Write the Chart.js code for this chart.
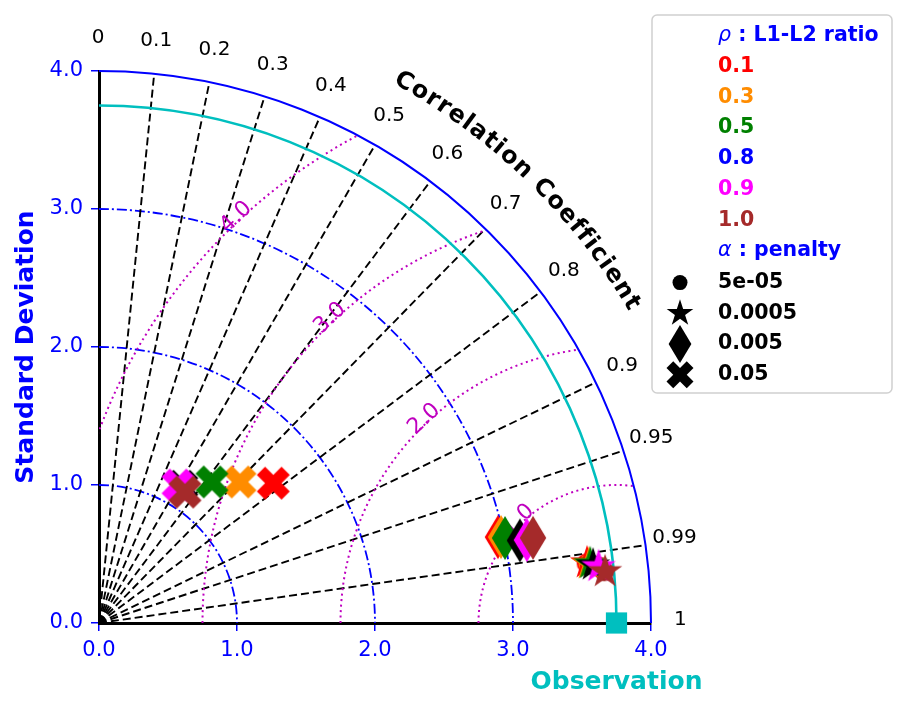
<!DOCTYPE html>
<html>
<head>
<meta charset="utf-8">
<script src="https://cdn.jsdelivr.net/npm/chart.js@4.4.1/dist/chart.umd.min.js"></script>
<style>
  html, body { margin: 0; padding: 0; background: #fff; }
  canvas { display: block; }
</style>
</head>
<body>
<canvas id="taylor" width="905" height="710"></canvas>
<script>
// legend groups
var ratios = ['0.1', '0.3', '0.5', '0.8', '0.9', '1.0']
var ratioColors = ['#ff0000', '#ff8c00', '#008000', '#0000ff', '#ff00ff', '#a52a2a']
var markerColors = ['#ff0000', '#ff8c00', '#008000', '#000000', '#ff00ff', '#a52a2a']
var penalties = ['5e-05', '0.0005', '0.005', '0.05']
var penaltyShapes = ['circle', 'star', 'diamond', 'x']

// reference (observation) standard deviation
var stdObs = 3.75

// standard deviation and correlation of each model, one value per ratio
var std5e5 = [3.560, 3.574, 3.584, 3.602, 3.640, 3.680]
var corr5e5 = [0.9926, 0.9928, 0.9929, 0.9932, 0.9937, 0.9948]
var std5e4 = [3.563, 3.576, 3.586, 3.605, 3.643, 3.686]
var corr5e4 = [0.9925, 0.9928, 0.9928, 0.9932, 0.9937, 0.9949]
var std5e3 = [2.957, 2.979, 3.006, 3.108, 3.158, 3.205]
var corr5e3 = [0.9776, 0.9779, 0.9788, 0.9813, 0.9817, 0.9813]
var std5e2 = [1.619, 1.445, 1.310, 1.158, 1.152, 1.135]
var corr5e2 = [0.780, 0.707, 0.625, 0.518, 0.497, 0.549]

// axes
var stdTicks = [0, 1, 2, 3, 4]
var stdArcs = [1, 2, 3]
var stdMax = 4
var corrTicks = [0, 0.1, 0.2, 0.3, 0.4, 0.5, 0.6, 0.7, 0.8, 0.9, 0.95, 0.99, 1]
var rmsLevels = [1, 2, 3, 4]

var FONT = "'DejaVu Sans', 'Liberation Sans', sans-serif"

// x filled marker outline (unit square)
var xPts = [[0.25, 0], [0.5, 0.25], [0.75, 0], [1, 0.25], [0.75, 0.5], [1, 0.75],
  [0.75, 1], [0.5, 0.75], [0.25, 1], [0, 0.75], [0.25, 0.5], [0, 0.25]]

function shapePath(c, shape, cx, cy, s) {
  c.beginPath()
  if (shape === 'circle') {
    c.arc(cx, cy, s / 2, 0, 2 * Math.PI)
  } else if (shape === 'star') {
    var R = s / 2, r = R * 0.381966
    for (var i = 0; i < 10; i++) {
      var a = -Math.PI / 2 + i * Math.PI / 5
      var rad = i % 2 ? r : R
      var px = cx + rad * Math.cos(a), py = cy + rad * Math.sin(a)
      if (i === 0) c.moveTo(px, py); else c.lineTo(px, py)
    }
  } else if (shape === 'diamond') {
    c.moveTo(cx, cy - s / 2)
    c.lineTo(cx + s * 0.3, cy)
    c.lineTo(cx, cy + s / 2)
    c.lineTo(cx - s * 0.3, cy)
  } else {
    xPts.forEach(function (p, i) {
      var px = cx + (p[0] - 0.5) * s, py = cy + (p[1] - 0.5) * s
      if (i === 0) c.moveTo(px, py); else c.lineTo(px, py)
    })
  }
  c.closePath()
}

var plotSize = { circle: 20, star: 36, diamond: 44, x: 33 }
var legendSize = { circle: 15, star: 28, diamond: 38, x: 27 }

function markerImage(shape, color) {
  var s = plotSize[shape]
  var cv = document.createElement('canvas')
  cv.width = s + 4
  cv.height = s + 4
  var c = cv.getContext('2d')
  c.fillStyle = color
  shapePath(c, shape, cv.width / 2, cv.height / 2, s)
  c.fill()
  return cv
}

function toPoints(stds, corrs) {
  return stds.map(function (sd, i) {
    return { x: sd * corrs[i], y: sd * Math.sqrt(1 - corrs[i] * corrs[i]) }
  })
}

function modelSet(label, k, stds, corrs) {
  return {
    label: label,
    data: toPoints(stds, corrs),
    pointStyle: markerColors.map(function (col) { return markerImage(penaltyShapes[k], col) }),
    pointRadius: 12,
    clip: false
  }
}

var taylorPlugin = {
  id: 'taylor',
  beforeDatasetsDraw: function (chart) {
    var ctx = chart.ctx
    var xs = chart.scales.x, ys = chart.scales.y
    var ox = xs.getPixelForValue(0), oy = ys.getPixelForValue(0)
    var kx = xs.getPixelForValue(1) - ox, ky = oy - ys.getPixelForValue(1)
    ctx.save()

    // std dev arcs
    ctx.strokeStyle = '#0000ff'
    ctx.lineWidth = 1.8
    ctx.setLineDash([10, 3, 2, 3])
    stdArcs.forEach(function (r) {
      ctx.beginPath()
      ctx.ellipse(ox, oy, r * kx, r * ky, 0, -Math.PI / 2, 0)
      ctx.stroke()
    })

    // correlation lines
    ctx.strokeStyle = '#000'
    ctx.lineWidth = 1.9
    ctx.setLineDash([8, 4])
    corrTicks.forEach(function (c) {
      if (c <= 0 || c >= 1) return
      var s = Math.sqrt(1 - c * c)
      ctx.beginPath()
      ctx.moveTo(ox, oy)
      ctx.lineTo(xs.getPixelForValue(stdMax * c), ys.getPixelForValue(stdMax * s))
      ctx.stroke()
    })

    // centred RMS contours, clipped to the quarter disc
    var cx = xs.getPixelForValue(stdObs)
    ctx.save()
    ctx.beginPath()
    ctx.moveTo(ox, oy)
    ctx.ellipse(ox, oy, stdMax * kx, stdMax * ky, 0, -Math.PI / 2, 0)
    ctx.closePath()
    ctx.clip()
    ctx.strokeStyle = '#bf00bf'
    ctx.lineWidth = 2
    ctx.setLineDash([2, 3.5])
    rmsLevels.forEach(function (r) {
      ctx.beginPath()
      ctx.ellipse(cx, oy, r * kx, r * ky, 0, -Math.PI, 0)
      ctx.stroke()
    })
    ctx.restore()

    // rms labels
    ctx.fillStyle = '#bf00bf'
    ctx.font = '22px ' + FONT
    ctx.textAlign = 'center'
    ctx.textBaseline = 'middle'
    var phi = 133 * Math.PI / 180
    rmsLevels.forEach(function (r) {
      var px = cx + r * kx * Math.cos(phi) - 4, py = oy - r * ky * Math.sin(phi) - 2
      ctx.save()
      ctx.translate(px, py)
      ctx.rotate(-(phi - Math.PI / 2))
      ctx.fillText(r.toFixed(1), 0, 0)
      ctx.restore()
    })

    // observation arc
    ctx.setLineDash([])
    ctx.strokeStyle = '#00bfbf'
    ctx.lineWidth = 2.6
    ctx.beginPath()
    ctx.ellipse(ox, oy, stdObs * kx, stdObs * ky, 0, -Math.PI / 2, 0)
    ctx.stroke()

    // outer arc
    ctx.strokeStyle = '#0000ff'
    ctx.lineWidth = 2
    ctx.beginPath()
    ctx.ellipse(ox, oy, stdMax * kx, stdMax * ky, 0, -Math.PI / 2, 0)
    ctx.stroke()

    // correlation tick labels
    ctx.fillStyle = '#000'
    ctx.font = '20px ' + FONT
    corrTicks.forEach(function (c) {
      var s = Math.sqrt(1 - c * c), R = 4.22
      ctx.fillText(String(c), xs.getPixelForValue(R * c) - 1, ys.getPixelForValue(R * s) - 3)
    })

    // curved title
    var title = 'Correlation Coefficient'
    ctx.font = 'bold 24px ' + FONT
    var Rp = 4.5 * kx
    var t0 = 60.6 * Math.PI / 180, t1 = 31 * Math.PI / 180
    var widths = title.split('').map(function (ch) { return ctx.measureText(ch).width })
    var W = widths.reduce(function (a, b) { return a + b }, 0)
    var n = widths.length
    var sp = ((t0 - t1) * Rp - (W - widths[0] / 2 - widths[n - 1] / 2)) / (n - 1)
    var pos = 0
    title.split('').forEach(function (ch, i) {
      var center = pos + widths[i] / 2
      var th = t0 - (center - widths[0] / 2) / Rp
      ctx.save()
      ctx.translate(ox + Rp * Math.cos(th), oy - Rp * Math.sin(th))
      ctx.rotate(Math.PI / 2 - th)
      ctx.fillText(ch, 0, 0)
      ctx.restore()
      pos += widths[i] + sp
    })

    // axis titles
    ctx.font = 'bold 25px ' + FONT
    ctx.fillStyle = '#0000ff'
    ctx.save()
    ctx.translate(26, (ys.top + ys.bottom) / 2)
    ctx.rotate(-Math.PI / 2)
    ctx.fillText('Standard Deviation', 0, 0)
    ctx.restore()
    ctx.fillStyle = '#00bfbf'
    ctx.fillText('Observation', cx, 682)

    ctx.restore()
  },
  afterDraw: function (chart) {
    var ctx = chart.ctx
    ctx.save()
    // legend box
    var bx = 652, by = 15, bw = 240, bh = 378
    ctx.fillStyle = 'rgba(255,255,255,0.8)'
    ctx.strokeStyle = '#d0d0d0'
    ctx.lineWidth = 1.5
    ctx.beginPath()
    ctx.roundRect(bx, by, bw, bh, 5)
    ctx.fill()
    ctx.stroke()

    var tx = 718, mx = 680, row = 30.7, y0 = 35
    ctx.textAlign = 'left'
    ctx.textBaseline = 'middle'

    function header(sym, text, yy) {
      ctx.fillStyle = '#0000ff'
      ctx.font = 'italic 20.5px ' + FONT
      ctx.fillText(sym, tx, yy)
      var w = ctx.measureText(sym).width
      ctx.font = 'bold 20.5px ' + FONT
      ctx.fillText(text, tx + w, yy)
    }

    header('\u03c1', ' : L1-L2 ratio', y0 + 1)
    ctx.font = 'bold 20.5px ' + FONT
    ratios.forEach(function (r, i) {
      ctx.fillStyle = ratioColors[i]
      ctx.fillText(r, tx, y0 + 1 + row * (i + 1))
    })
    var ya = y0 + row * (ratios.length + 1)
    header('\u03b1', ' : penalty', ya + 1)
    penalties.forEach(function (p, i) {
      var yy = ya + row * (i + 1) + 2
      ctx.fillStyle = '#000'
      shapePath(ctx, penaltyShapes[i], mx, yy, legendSize[penaltyShapes[i]])
      ctx.fill()
      ctx.font = 'bold 20.5px ' + FONT
      ctx.fillText(p, tx, yy)
    })
    ctx.restore()
  }
}

var datasets = [{
  label: 'Observation',
  data: [{ x: stdObs, y: 0 }],
  pointStyle: 'rect',
  pointRadius: 15,
  backgroundColor: '#00bfbf',
  borderWidth: 0,
  clip: false
}]
datasets.push(modelSet('0.05', 3, std5e2, corr5e2))
datasets.push(modelSet('0.005', 2, std5e3, corr5e3))
datasets.push(modelSet('0.0005', 1, std5e4, corr5e4))
datasets.push(modelSet('5e-05', 0, std5e5, corr5e5))

function axisOpts(fit) {
  return {
    type: 'linear',
    min: stdTicks[0],
    max: stdTicks[stdTicks.length - 1],
    afterBuildTicks: function (s) { s.ticks = stdTicks.map(function (v) { return { value: v } }) },
    ticks: {
      color: '#0000ff',
      font: { size: 21, family: FONT },
      callback: function (v) { return Number(v).toFixed(1) }
    },
    grid: { drawOnChartArea: false, drawTicks: true, tickLength: 8, color: '#0000ff', lineWidth: 1.5 },
    border: { display: true, color: '#000', width: 3 },
    afterFit: fit
  }
}

var xOpts = axisOpts(function (s) { s.height = 87 })
xOpts.ticks.padding = 7
var yOpts = axisOpts(function (s) { s.width = 99 })
yOpts.ticks.padding = 8

var ctx = document.getElementById('taylor').getContext('2d')
var chart = new Chart(ctx, {
  type: 'scatter',
  data: { datasets: datasets },
  options: {
    responsive: false,
    animation: false,
    layout: { padding: { left: 0, top: 71, right: 254, bottom: 0 } },
    plugins: { legend: { display: false }, tooltip: { enabled: false } },
    scales: { x: xOpts, y: yOpts }
  },
  plugins: [taylorPlugin]
})
</script>
</body>
</html>
